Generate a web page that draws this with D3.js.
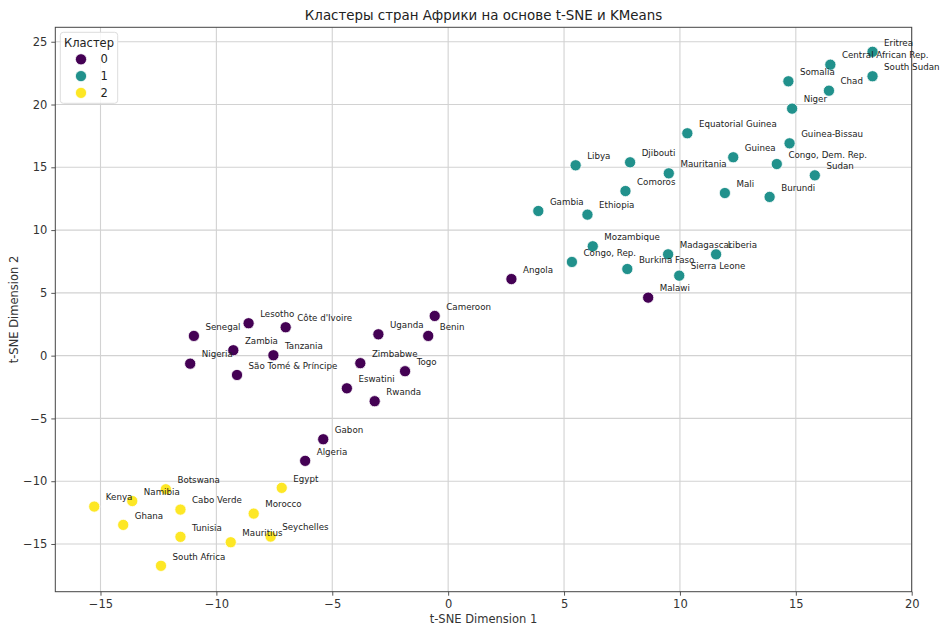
<!DOCTYPE html>
<html>
<head>
<meta charset="utf-8">
<script src="https://cdn.jsdelivr.net/npm/d3@7"></script>
<style>
  body { margin: 0; background: #fff; }
  text { font-family: "DejaVu Sans", sans-serif; }
</style>
</head>
<body>
<div id="chart"></div>
<script>
// countries, t-SNE coordinates and KMeans cluster
const countries = [
  "Eritrea", "Central African Rep.", "South Sudan", "Somalia", "Chad", "Niger",
  "Equatorial Guinea", "Guinea-Bissau", "Guinea", "Congo, Dem. Rep.", "Sudan",
  "Mauritania", "Djibouti", "Libya", "Mali", "Burundi", "Comoros", "Gambia",
  "Ethiopia", "Mozambique", "Congo, Rep.", "Madagascar", "Liberia",
  "Burkina Faso", "Sierra Leone",
  "Malawi", "Angola", "Cameroon", "Benin", "Uganda", "Zimbabwe", "Togo",
  "Eswatini", "Rwanda", "Gabon", "Algeria", "Lesotho", "Côte d'Ivoire",
  "Senegal", "Zambia", "Tanzania", "Nigeria", "São Tomé & Príncipe",
  "Kenya", "Namibia", "Botswana", "Ghana", "Cabo Verde", "Tunisia",
  "South Africa", "Mauritius", "Morocco", "Egypt", "Seychelles"
];
const dim1 = [
  18.31, 16.49, 18.31, 14.68, 16.43, 14.84,
  10.32, 14.73, 12.30, 14.18, 15.82,
  9.52, 7.85, 5.50, 11.94, 13.87, 7.65, 3.89,
  6.01, 6.24, 5.34, 9.49, 11.56,
  7.73, 9.97,
  8.63, 2.73, -0.58, -0.86, -3.01, -3.79, -1.86,
  -4.37, -3.17, -5.39, -6.17, -8.61, -7.01,
  -10.97, -9.27, -7.54, -11.13, -9.11,
  -15.27, -13.63, -12.18, -14.02, -11.55, -11.55,
  -12.39, -9.38, -8.39, -7.18, -7.66
];
const dim2 = [
  24.20, 23.17, 22.25, 21.85, 21.10, 19.67,
  17.71, 16.91, 15.80, 15.26, 14.36,
  14.52, 15.40, 15.16, 12.95, 12.64, 13.11, 11.52,
  11.23, 8.71, 7.46, 8.07, 8.07,
  6.90, 6.37,
  4.62, 6.10, 3.16, 1.57, 1.70, -0.60, -1.24,
  -2.60, -3.63, -6.66, -8.38, 2.58, 2.26,
  1.57, 0.43, 0.03, -0.64, -1.54,
  -12.02, -11.58, -10.64, -13.48, -12.26, -14.43,
  -16.74, -14.86, -12.58, -10.53, -14.41
];
const cluster = [
  1, 1, 1, 1, 1, 1, 1, 1, 1, 1, 1, 1, 1, 1, 1, 1, 1, 1, 1, 1, 1, 1, 1, 1, 1,
  0, 0, 0, 0, 0, 0, 0, 0, 0, 0, 0, 0, 0, 0, 0, 0, 0, 0,
  2, 2, 2, 2, 2, 2, 2, 2, 2, 2, 2
];
const clusterIds = [0, 1, 2];
const xTicks = [-15, -10, -5, 0, 5, 10, 15, 20];
const yTicks = [-15, -10, -5, 0, 5, 10, 15, 20, 25];

const width = 941, height = 625;
const margin = { top: 27.3, right: 29.3, bottom: 33.3, left: 55.3 };

const svg = d3.select("#chart")
  .append("svg")
  .attr("width", width)
  .attr("height", height);

const x = d3.scaleLinear()
  .domain([-16.95, 20.0])
  .range([margin.left, width - margin.right]);
const y = d3.scaleLinear()
  .domain([-18.8, 26.15])
  .range([height - margin.bottom, margin.top]);

const color = d3.scaleOrdinal()
  .domain(clusterIds)
  .range(["#440154", "#21918c", "#fde725"]);

const data = countries.map((c, i) => ({ name: c, x: dim1[i], y: dim2[i], k: cluster[i] }));

// grid
svg.append("g")
  .selectAll("line")
  .data(xTicks)
  .join("line")
  .attr("x1", d => x(d)).attr("x2", d => x(d))
  .attr("y1", margin.top).attr("y2", height - margin.bottom)
  .attr("stroke", "#d2d2d2")
  .attr("stroke-width", 1.1);
svg.append("g")
  .selectAll("line")
  .data(yTicks)
  .join("line")
  .attr("y1", d => y(d)).attr("y2", d => y(d))
  .attr("x1", margin.left).attr("x2", width - margin.right)
  .attr("stroke", "#d2d2d2")
  .attr("stroke-width", 1.1);

// axes
const xAxis = svg.append("g")
  .attr("transform", "translate(0," + (height - margin.bottom) + ")")
  .call(d3.axisBottom(x).tickValues(xTicks).tickSizeOuter(0).tickSize(4).tickPadding(4));
const yAxis = svg.append("g")
  .attr("transform", "translate(" + margin.left + ",0)")
  .call(d3.axisLeft(y).tickValues(yTicks).tickSizeOuter(0).tickSize(4).tickPadding(4));
[xAxis, yAxis].forEach(a => {
  a.select(".domain").remove();
  a.selectAll("line").attr("stroke", "#444").attr("stroke-width", 0.9);
  a.selectAll("text")
    .attr("fill", "#333")
    .style("font-family", "DejaVu Sans")
    .style("font-size", "11.5px");
});

// frame
svg.append("rect")
  .attr("x", margin.left)
  .attr("y", margin.top)
  .attr("width", width - margin.left - margin.right)
  .attr("height", height - margin.top - margin.bottom)
  .attr("fill", "none")
  .attr("stroke", "#444")
  .attr("stroke-width", 1);

// points
svg.append("g")
  .selectAll("circle")
  .data(data)
  .join("circle")
  .attr("cx", d => x(d.x))
  .attr("cy", d => y(d.y))
  .attr("r", 5.6)
  .attr("fill", d => color(d.k))
  .attr("stroke", "#fff")
  .attr("stroke-width", 0.8);

// labels
svg.append("g")
  .selectAll("text")
  .data(data)
  .join("text")
  .attr("x", d => x(d.x + 0.5))
  .attr("y", d => y(d.y + 0.5))
  .attr("fill", "#222")
  .style("font-size", "8.7px")
  .text(d => d.name);

// title and axis labels
svg.append("text")
  .attr("x", (margin.left + width - margin.right) / 2)
  .attr("y", 20)
  .attr("text-anchor", "middle")
  .attr("fill", "#222")
  .style("font-size", "13.4px")
  .text("Кластеры стран Африки на основе t-SNE и KMeans");
svg.append("text")
  .attr("x", (margin.left + width - margin.right) / 2)
  .attr("y", 623)
  .attr("text-anchor", "middle")
  .attr("fill", "#333")
  .style("font-size", "11.5px")
  .text("t-SNE Dimension 1");
svg.append("text")
  .attr("transform", "translate(18," + ((margin.top + height - margin.bottom) / 2) + ") rotate(-90)")
  .attr("text-anchor", "middle")
  .attr("fill", "#333")
  .style("font-size", "11.5px")
  .text("t-SNE Dimension 2");

// legend
const legend = svg.append("g");
legend.append("rect")
  .attr("x", 60.3).attr("y", 32.3)
  .attr("width", 57.4).attr("height", 71)
  .attr("rx", 3)
  .attr("fill", "#fff").attr("fill-opacity", 0.85)
  .attr("stroke", "#ddd");
legend.append("text")
  .attr("x", 89).attr("y", 46.8)
  .attr("text-anchor", "middle")
  .attr("fill", "#222")
  .style("font-size", "11.5px")
  .text("Кластер");
const items = legend.selectAll("g.item")
  .data(clusterIds)
  .join("g")
  .attr("transform", (d, i) => "translate(0," + (59.3 + i * 16.8) + ")");
items.append("circle")
  .attr("cx", 81).attr("cy", 0).attr("r", 5.6)
  .attr("fill", d => color(d))
  .attr("stroke", "#fff").attr("stroke-width", 0.8);
items.append("text")
  .attr("x", 100.5).attr("y", 4)
  .attr("fill", "#222")
  .style("font-size", "11.5px")
  .text(d => d);
</script>
</body>
</html>
